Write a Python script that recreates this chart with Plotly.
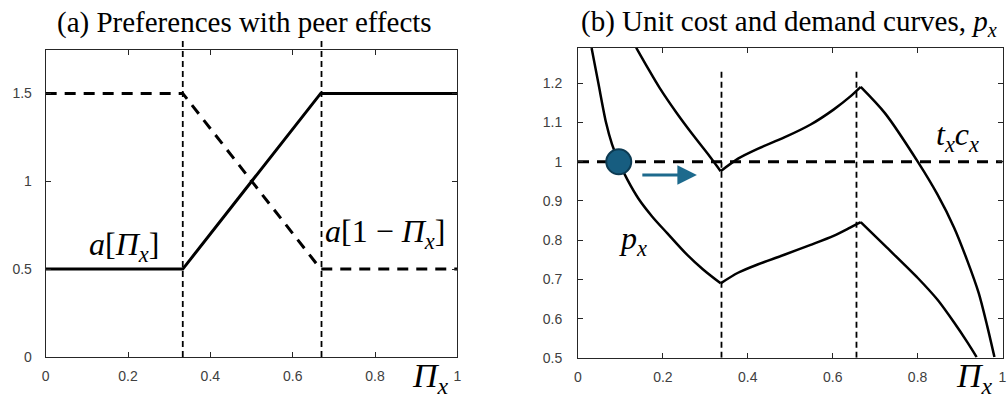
import plotly.graph_objects as go

# ---------------- data ----------------
# Panel (a): preferences with peer effects
a_x = [0.0, 0.333, 0.668, 1.0]
a_own = [0.5, 0.5, 1.5, 1.5]          # a[Pi_x]
a_other = [1.5, 1.5, 0.5, 0.5]        # a[1 - Pi_x]
a_kinks = [0.333, 0.670]
a_xticks = [0, 0.2, 0.4, 0.6, 0.8, 1]
a_yticks = [0, 0.5, 1, 1.5]

# Panel (b): unit cost and demand curves (three branches each)
low_x1 = [0.032, 0.048, 0.066, 0.080, 0.096, 0.116, 0.143, 0.175, 0.210, 0.255, 0.294, 0.336]
low_y1 = [1.290, 1.200, 1.100, 1.045, 1.000, 0.955, 0.905, 0.860, 0.818, 0.765, 0.726, 0.690]
low_x2 = [0.336, 0.377, 0.423, 0.486, 0.548, 0.602, 0.641, 0.666]
low_y2 = [0.690, 0.717, 0.738, 0.763, 0.788, 0.811, 0.832, 0.846]
low_x3 = [0.666, 0.723, 0.801, 0.847, 0.886, 0.917, 0.939]
low_y3 = [0.846, 0.786, 0.703, 0.648, 0.590, 0.540, 0.502]
up_x1 = [0.137, 0.166, 0.193, 0.232, 0.271, 0.310, 0.336]
up_y1 = [1.291, 1.236, 1.187, 1.125, 1.068, 1.014, 0.976]
up_x2 = [0.336, 0.377, 0.423, 0.486, 0.548, 0.602, 0.641, 0.666]
up_y2 = [0.976, 1.008, 1.033, 1.062, 1.095, 1.133, 1.166, 1.191]
up_x3 = [0.666, 0.723, 0.801, 0.847, 0.886, 0.917, 0.944, 0.964, 0.981]
up_y3 = [1.191, 1.124, 0.999, 0.916, 0.832, 0.748, 0.665, 0.581, 0.502]
cost_x = [0.0, 1.0]
cost_y = [1.0, 1.0]                   # t_x c_x
b_kinks = [0.338, 0.656]
b_kink_top = 1.237
point_x = [0.096]
point_y = [1.0]
arrow_x = [0.148, 0.280]
arrow_y = [0.966, 0.966]
b_xticks = [0, 0.2, 0.4, 0.6, 0.8, 1]
b_yticks = [0.5, 0.6, 0.7, 0.8, 0.9, 1.0, 1.1, 1.2]

BLUE = "#175d80"
TICKFONT = dict(family="Liberation Sans, Arial, sans-serif", size=14, color="#404040")
MATH = "Liberation Serif, Times New Roman, serif"
TITLE = "Liberation Serif, Times New Roman, serif"

fig = go.Figure()

# panel (a)
fig.add_trace(go.Scatter(x=a_x, y=a_own, mode="lines", line=dict(color="black", width=3),
                         xaxis="x", yaxis="y", showlegend=False))
fig.add_trace(go.Scatter(x=a_x, y=a_other, mode="lines",
                         line=dict(color="black", width=3, dash="11px,8px"),
                         xaxis="x", yaxis="y", showlegend=False))

# panel (b)
fig.add_trace(go.Scatter(x=cost_x, y=cost_y, mode="lines",
                         line=dict(color="black", width=3, dash="11px,8px"),
                         xaxis="x2", yaxis="y2", showlegend=False))
for bx, by in [(low_x1, low_y1), (low_x2, low_y2), (low_x3, low_y3),
               (up_x1, up_y1), (up_x2, up_y2), (up_x3, up_y3)]:
    fig.add_trace(go.Scatter(x=bx, y=by, mode="lines",
                             line=dict(color="black", width=2.5, shape="spline", smoothing=0.8),
                             xaxis="x2", yaxis="y2", showlegend=False))
fig.add_trace(go.Scatter(x=point_x, y=point_y, mode="markers",
                         marker=dict(size=25, color=BLUE, line=dict(color="#0c3a52", width=2)),
                         xaxis="x2", yaxis="y2", showlegend=False, cliponaxis=False))

shapes = []
for k in a_kinks:
    shapes.append(dict(type="line", xref="x", yref="y domain", x0=k, x1=k, y0=0, y1=1.04,
                       line=dict(color="black", width=1.8, dash="6px,4px")))
for k in b_kinks:
    shapes.append(dict(type="line", xref="x2", yref="y2", x0=k, x1=k, y0=0.5, y1=b_kink_top,
                       line=dict(color="black", width=1.8, dash="6px,4px")))

annotations = [
    dict(text="(a) Preferences with peer effects", x=242 / 1008, y=1 - 23 / 409,
         xref="paper", yref="paper", showarrow=False, xanchor="center", yanchor="middle",
         font=dict(family=TITLE, size=29, color="black")),
    dict(text="(b) Unit cost and demand curves, <i>p</i><sub><i>x</i></sub>", x=791 / 1008,
         y=1 - 23 / 409, xref="paper", yref="paper", showarrow=False, xanchor="center",
         yanchor="middle", font=dict(family=TITLE, size=29, color="black")),
    dict(text="<i>a</i>[<i>Π</i><sub><i>x</i></sub>]", x=0.19, y=0.63, xref="x", yref="y",
         showarrow=False, font=dict(family=MATH, size=32, color="black")),
    dict(text="<i>a</i>[1 − <i>Π</i><sub><i>x</i></sub>]", x=0.825, y=0.70, xref="x", yref="y",
         showarrow=False, font=dict(family=MATH, size=32, color="black")),
    dict(text="<i>Π</i><sub><i>x</i></sub>", x=430 / 1008, y=0, xref="paper",
         yref="paper", showarrow=False, xanchor="center", yanchor="bottom",
         font=dict(family=MATH, size=34, color="black")),
    dict(text="<i>Π</i><sub><i>x</i></sub>", x=978 / 1008, y=0, xref="paper",
         yref="paper", showarrow=False, xanchor="center", yanchor="bottom",
         font=dict(family=MATH, size=34, color="black")),
    dict(text="<i>p</i><sub><i>x</i></sub>", x=0.13, y=0.80, xref="x2", yref="y2",
         showarrow=False, font=dict(family=MATH, size=32, color="black")),
    dict(text="<i>t</i><sub><i>x</i></sub><i>c</i><sub><i>x</i></sub>", x=0.895, y=1.065,
         xref="x2", yref="y2", showarrow=False, font=dict(family=MATH, size=32, color="black")),
    dict(text="", x=arrow_x[1], y=arrow_y[1], ax=arrow_x[0], ay=arrow_y[0],
         xref="x2", yref="y2", axref="x2", ayref="y2", showarrow=True,
         arrowhead=2, arrowsize=1.3, arrowwidth=3, arrowcolor="#1d6a8d"),
]

axis_common = dict(showline=True, linecolor="#262626", linewidth=1, mirror="ticks",
                   ticks="inside", ticklen=5, tickcolor="#262626", tickwidth=1,
                   showgrid=False, zeroline=False, tickfont=TICKFONT)

fig.update_layout(
    width=1008, height=409,
    margin=dict(l=0, r=0, t=0, b=0),
    paper_bgcolor="white", plot_bgcolor="white",
    xaxis=dict(domain=[42 / 1008, 457 / 1008], range=[0, 1], tickvals=a_xticks,
               anchor="y", ticklabelstandoff=6, **axis_common),
    yaxis=dict(domain=[(409 - 364) / 409, (409 - 50.5) / 409], range=[0, 1.75],
               tickvals=a_yticks, anchor="x", ticklabelstandoff=10, **axis_common),
    xaxis2=dict(domain=[578.6 / 1008, 1006.5 / 1008], range=[0, 1], tickvals=b_xticks,
                anchor="y2", ticklabelstandoff=6, **axis_common),
    yaxis2=dict(domain=[(409 - 365) / 409, (409 - 49) / 409], range=[0.5, 1.29],
                tickvals=b_yticks, anchor="x2", ticklabelstandoff=12, **axis_common),
    shapes=shapes,
    annotations=annotations,
)

fig.write_html("out.html")
